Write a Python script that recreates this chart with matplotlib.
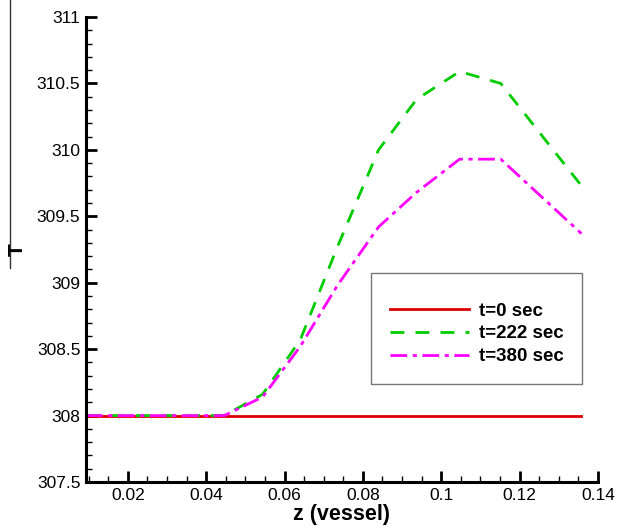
import matplotlib
matplotlib.use('Agg')
import matplotlib.pyplot as plt
from matplotlib.ticker import MultipleLocator
from matplotlib.lines import Line2D

plt.rcParams['font.family'] = ['Liberation Sans', 'DejaVu Sans']

# data
z = [0.0093, 0.0446, 0.0544, 0.0640, 0.0735, 0.0840, 0.0937, 0.1047, 0.1152, 0.1358]
t0 = [308.0] * len(z)
t222 = [308.0, 308.0, 308.16, 308.57, 309.27, 310.0, 310.38, 310.59, 310.5, 309.73]
t380 = [308.0, 308.0, 308.14, 308.52, 308.98, 309.42, 309.68, 309.93, 309.93, 309.37]
labels = ['t=0 sec', 't=222 sec', 't=380 sec']

fig = plt.figure(figsize=(6.17, 5.28), dpi=100)
ax = fig.add_axes([0.1394, 0.0871, 0.8296, 0.8807])

ax.plot(z, t0, color='#dd0000', lw=2.0, ls='-', label=labels[0])
ax.plot(z, t222, color='#00cc00', lw=2.0, ls=(0, (5, 4)), label=labels[1])
ax.plot(z, t380, color='#ff00ff', lw=2.0, ls=(0, (6, 2, 1.5, 2)), label=labels[2])

ax.set_xlim(0.0093, 0.14)
ax.set_ylim(307.5, 311)
ax.xaxis.set_minor_locator(MultipleLocator(0.005))
ax.yaxis.set_minor_locator(MultipleLocator(0.1))
ax.set_xticks([0.02, 0.04, 0.06, 0.08, 0.1, 0.12, 0.14])
ax.set_xticklabels(['0.02', '0.04', '0.06', '0.08', '0.1', '0.12', '0.14'])
ax.set_yticks([307.5, 308, 308.5, 309, 309.5, 310, 310.5, 311])
ax.set_yticklabels(['307.5', '308', '308.5', '309', '309.5', '310', '310.5', '311'])

for s in ['top', 'right']:
    ax.spines[s].set_visible(False)
for s in ['left', 'bottom']:
    ax.spines[s].set_linewidth(2.2)
ax.tick_params(which='major', direction='in', length=8, width=2, labelsize=12.5, pad=4)
ax.tick_params(which='minor', direction='in', length=4.5, width=1)

ax.set_xlabel('z (vessel)', fontsize=15.5, fontweight='bold', labelpad=1)
fig.text(0.028, 0.527, 'T', rotation=90, fontsize=15, fontweight='bold', ha='center', va='center')
fig.add_artist(Line2D([0.016, 0.016], [0.492, 1.0], transform=fig.transFigure, color='#333333', lw=1))

leg = ax.legend(loc='upper left', bbox_to_anchor=(0.557, 0.449), frameon=True, fancybox=False,
                prop={'weight': 'bold', 'size': 13.5}, handlelength=4.2, borderpad=1.0,
                labelspacing=0.3, handletextpad=0.55, borderaxespad=0,
                title=' ', title_fontsize=4)
leg.get_frame().set_edgecolor('#555555')
leg.get_frame().set_linewidth(1.0)

fig.savefig('out.png', dpi=100)
